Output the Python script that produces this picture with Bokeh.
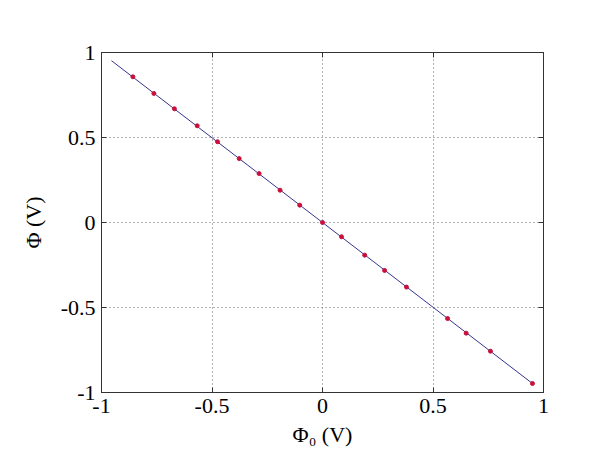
from bokeh.plotting import figure
from bokeh.models import Range1d, LinearAxis, FixedTicker, Grid
from bokeh.embed import file_html
from bokeh.resources import INLINE

# data
pts_x = [-0.858, -0.763, -0.670, -0.567, -0.475, -0.377, -0.287, -0.192, -0.103, 0.0,
         0.086, 0.191, 0.281, 0.380, 0.566, 0.650, 0.760, 0.950]
pts_y = [0.857, 0.759, 0.669, 0.569, 0.475, 0.376, 0.288, 0.190, 0.102, 0.0,
         -0.084, -0.192, -0.282, -0.380, -0.565, -0.651, -0.757, -0.947]
line_x = [-0.955, 0.955]
line_y = [0.952, -0.952]
ticks = [-1, -0.5, 0, 0.5, 1]
tick_labels = {-1: "-1", -0.5: "-0.5", 0: "0", 0.5: "0.5", 1: "1"}
x_label = "Φ₀ (V)"
y_label = "Φ (V)"

W, H = 574, 456
p = figure(width=W, height=H, output_backend="svg", toolbar_location=None,
           x_range=Range1d(-1, 1), y_range=Range1d(-1, 1),
           min_border_left=101, min_border_right=31, min_border_top=52, min_border_bottom=64,
           x_axis_type=None, y_axis_type=None)
p.background_fill_color = "white"
p.border_fill_color = "white"
p.outline_line_color = "#333333"
p.outline_line_width = 1

FONT = "Liberation Serif"

def style_axis(ax, show_labels):
    ax.ticker = FixedTicker(ticks=ticks)
    ax.major_label_overrides = tick_labels
    ax.major_tick_in = 5
    ax.major_tick_out = 0
    ax.minor_tick_line_color = None
    ax.axis_line_color = "#333333"
    ax.major_tick_line_color = "#333333"
    ax.major_label_text_font = FONT
    ax.major_label_text_font_size = "22px" if show_labels else "0px"
    ax.major_label_text_color = "black" if show_labels else None
    ax.major_label_standoff = 6
    ax.axis_label_text_font = FONT
    ax.axis_label_text_font_size = "22px"
    ax.axis_label_text_font_style = "normal"
    ax.axis_label_text_color = "black"

xb = LinearAxis(axis_label=x_label); style_axis(xb, True); xb.axis_label_standoff = 6
p.add_layout(xb, "below")
yl = LinearAxis(axis_label=y_label); style_axis(yl, True); yl.axis_label_standoff = 12
p.add_layout(yl, "left")
xt = LinearAxis(); style_axis(xt, False); p.add_layout(xt, "above")
yr = LinearAxis(); style_axis(yr, False); p.add_layout(yr, "right")

for dim, ax in ((0, xb), (1, yl)):
    g = Grid(dimension=dim, ticker=ax.ticker)
    g.grid_line_color = "#666666"
    g.grid_line_dash = "1 3"
    g.grid_line_width = 1
    p.add_layout(g)

p.line(line_x, line_y, line_color="#34348f", line_width=1)
p.scatter(pts_x, pts_y, size=4, fill_color="#c8103a", line_color="#c8103a")

open("out.html", "w").write(file_html(p, INLINE))
